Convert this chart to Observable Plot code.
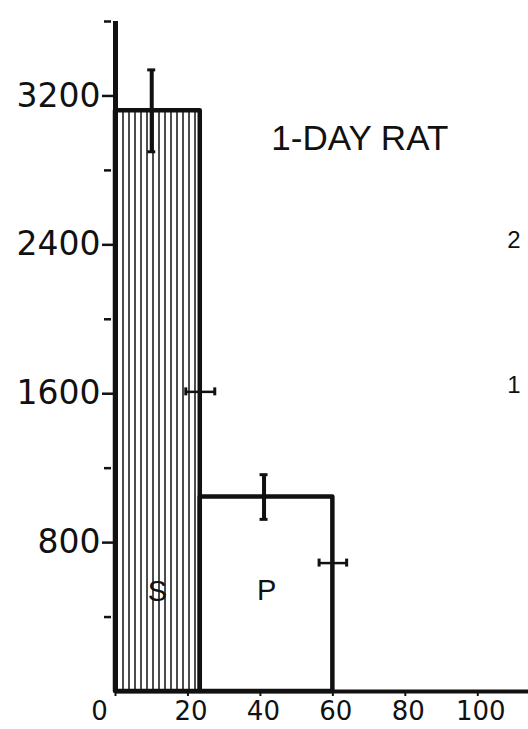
<!DOCTYPE html>
<html><head><meta charset="utf-8">
<script src="https://cdn.jsdelivr.net/npm/d3@7"></script>
<script src="https://cdn.jsdelivr.net/npm/@observablehq/plot@0.6"></script>
<style>html,body{margin:0;padding:0;background:#fff}</style>
</head><body><div id="chart"></div>
<script>
// Data
const regions = ["S", "P"];
const regionStart = [0, 23.4];
const regionEnd = [23.4, 60];
const regionMean = [3120, 1045];
const meanErrX = [10, 41];
const meanErr = [220, 120];
const edgeY = [1610, 690];
const edgeErr = [4, 3.8];
const labelX = [11.6, 41.7];
const labelY = [534, 544];
const yMajor = [800, 1600, 2400, 3200];
const yMinor = [400, 1200, 2000, 2800, 3600];
const xTicks = [20, 40, 60, 80, 100];
const titleText = ["1-DAY RAT"];
const titleX = [43];
const titleY = [2910];
const sideLabels = ["2", "1"];
const sideX = [110];
const sideY = [2423, 1643];

const bars = regions.map((r, i) => ({
  region: r, x1: regionStart[i], x2: regionEnd[i], y: regionMean[i],
  ex: meanErrX[i], lo: regionMean[i] - meanErr[i], hi: regionMean[i] + meanErr[i],
  ey: edgeY[i], exlo: regionEnd[i] - edgeErr[i], exhi: regionEnd[i] + edgeErr[i],
  lx: labelX[i], ly: labelY[i]
}));
const sides = sideLabels.map((t, i) => ({t, x: sideX[0], y: sideY[i]}));
const titles = titleText.map((t, i) => ({t, x: titleX[i], y: titleY[i]}));

const ink = "#111";
const chart = Plot.plot({
  width: 528, height: 729,
  marginLeft: 115, marginRight: 0, marginTop: 21, marginBottom: 38,
  style: {fontFamily: "DejaVu Sans", background: "#fff", color: ink, overflow: "visible"},
  x: {domain: [0, 114]},
  y: {domain: [0, 3600]},
  marks: [
    Plot.rectY(bars, {x1: "x1", x2: "x2", y: "y", fill: (d, i) => i === 0 ? "url(#hatch)" : "#fff", stroke: ink, strokeWidth: 4.5, strokeLinejoin: "round"}),
    Plot.ruleX([0], {y1: 0, y2: 3600, stroke: ink, strokeWidth: 5}),
    Plot.ruleY([0], {stroke: ink, strokeWidth: 4}),
    // mean error bars
    Plot.ruleX(bars, {x: "ex", y1: "lo", y2: "hi", stroke: ink, strokeWidth: 4}),
    Plot.ruleY(bars, {y: "lo", x1: "ex", x2: "ex", insetLeft: -4, insetRight: -4, stroke: ink, strokeWidth: 3}),
    Plot.ruleY(bars, {y: "hi", x1: "ex", x2: "ex", insetLeft: -4, insetRight: -4, stroke: ink, strokeWidth: 3}),
    // boundary error bars
    Plot.ruleY(bars, {y: "ey", x1: "exlo", x2: "exhi", stroke: ink, strokeWidth: 2.5}),
    Plot.ruleX(bars, {x: "exlo", y1: "ey", y2: "ey", insetTop: -4, insetBottom: -4, stroke: ink, strokeWidth: 3}),
    Plot.ruleX(bars, {x: "exhi", y1: "ey", y2: "ey", insetTop: -4, insetBottom: -4, stroke: ink, strokeWidth: 3}),
    // axes
    Plot.axisY({ticks: yMajor, tickSize: 13, tickPadding: 2, strokeWidth: 2.5, fontSize: 33, tickFormat: d => String(d)}),
    Plot.axisY({ticks: yMinor, tickSize: 7, strokeWidth: 2.5, text: null, dx: -4}),
    Plot.axisX({ticks: [0, ...xTicks], tickSize: 5, strokeWidth: 2, text: null}),
    Plot.axisX({ticks: xTicks, tickSize: 0, tickPadding: 10, fontSize: 26, tickFormat: d => String(d), dx: 3}),
    Plot.axisX({ticks: [0], tickSize: 0, tickPadding: 10, fontSize: 26, tickFormat: d => String(d), dx: -16}),
    // labels
    Plot.text(bars, {x: "lx", y: "ly", text: "region", fontSize: 29, fontFamily: "Liberation Sans", fill: ink}),
    Plot.text(titles, {x: "x", y: "y", text: "t", textAnchor: "start", lineAnchor: "bottom", fontSize: 35, fontFamily: "Liberation Sans", fill: ink}),
    Plot.text(sides, {x: "x", y: "y", text: "t", fontSize: 24, fontFamily: "Liberation Sans", fill: ink})
  ]
});

const svg = chart.tagName.toLowerCase() === "svg" ? chart : chart.querySelector("svg");
const NS = "http://www.w3.org/2000/svg";
const defs = document.createElementNS(NS, "defs");
const pat = document.createElementNS(NS, "pattern");
pat.setAttribute("id", "hatch");
pat.setAttribute("width", "6");
pat.setAttribute("height", "10");
pat.setAttribute("patternUnits", "userSpaceOnUse");
const bg = document.createElementNS(NS, "rect");
bg.setAttribute("width", "6"); bg.setAttribute("height", "10"); bg.setAttribute("fill", "#fff");
const ln = document.createElementNS(NS, "line");
ln.setAttribute("x1", "3"); ln.setAttribute("x2", "3"); ln.setAttribute("y1", "0"); ln.setAttribute("y2", "10");
ln.setAttribute("stroke", "#111"); ln.setAttribute("stroke-width", "1.5");
pat.appendChild(bg); pat.appendChild(ln); defs.appendChild(pat);
svg.insertBefore(defs, svg.firstChild);
document.getElementById("chart").appendChild(chart);
</script>
</body></html>
